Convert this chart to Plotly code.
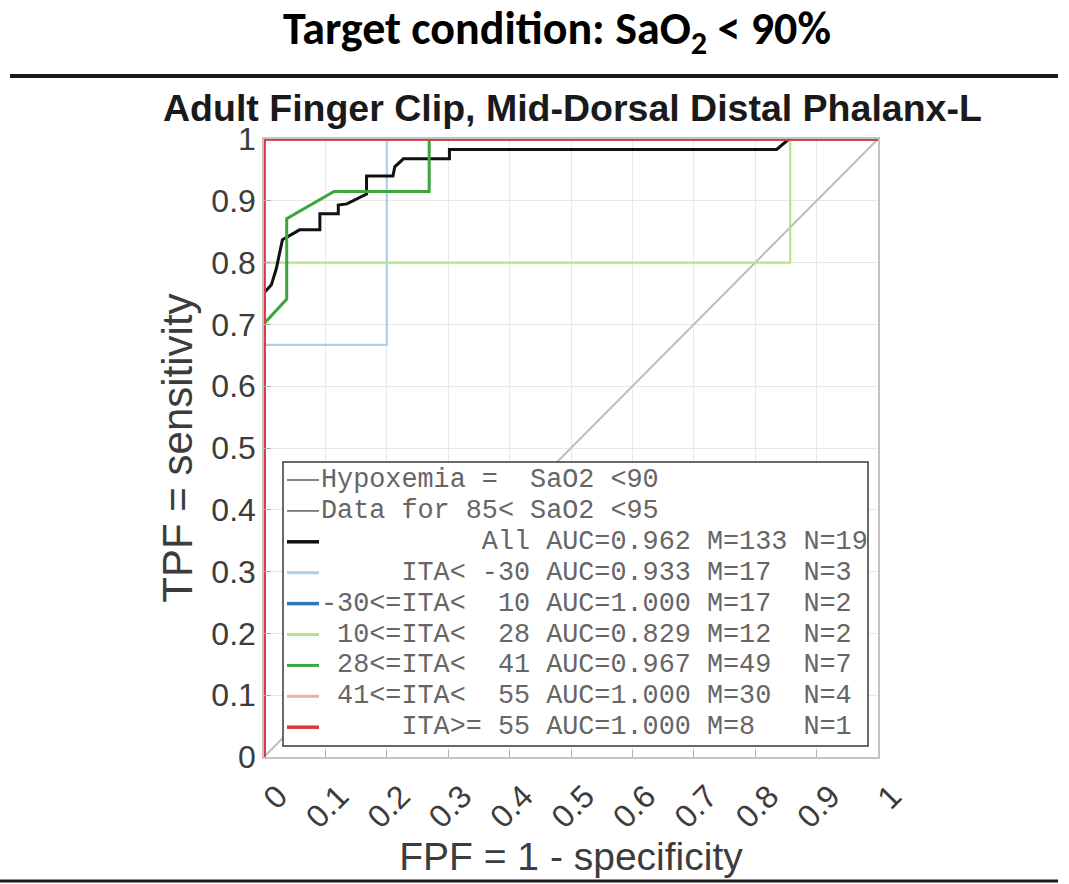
import plotly.graph_objects as go

# ROC curves (FPF, TPF) per ITA group
fpf_all = [0, 0, 0.012, 0.020, 0.030, 0.045, 0.058, 0.091, 0.091, 0.121, 0.121, 0.135,
           0.150, 0.167, 0.167, 0.210, 0.213, 0.227, 0.302, 0.302, 0.835, 0.855, 1.0]
tpf_all = [0, 0.751, 0.764, 0.790, 0.837, 0.845, 0.853, 0.853, 0.879, 0.879, 0.893, 0.895,
           0.902, 0.911, 0.940, 0.940, 0.955, 0.968, 0.968, 0.983, 0.983, 1.0, 1.0]

fpf_ita_lt_m30 = [0, 0, 0.2, 0.2, 1]
tpf_ita_lt_m30 = [0, 0.667, 0.667, 1, 1]

fpf_ita_m30_10 = [0, 0, 1]
tpf_ita_m30_10 = [0, 1, 1]

fpf_ita_10_28 = [0, 0, 0.857, 0.857, 1]
tpf_ita_10_28 = [0, 0.8, 0.8, 1, 1]

fpf_ita_28_41 = [0, 0, 0.037, 0.037, 0.114, 0.269, 0.269, 1]
tpf_ita_28_41 = [0, 0.701, 0.741, 0.871, 0.915, 0.915, 1, 1]

fpf_ita_41_55 = [0, 0, 1]
tpf_ita_41_55 = [0, 1, 1]

fpf_ita_ge_55 = [0, 0, 1]
tpf_ita_ge_55 = [0, 1, 1]

chance_x = [0, 1]
chance_y = [0, 1]

tick_vals = [0, 0.1, 0.2, 0.3, 0.4, 0.5, 0.6, 0.7, 0.8, 0.9, 1]
tick_text = ["0", "0.1", "0.2", "0.3", "0.4", "0.5", "0.6", "0.7", "0.8", "0.9", "1"]

legend_labels = [
    "Hypoxemia =  SaO2 <90",
    "Data for 85< SaO2 <95",
    "          All AUC=0.962 M=133 N=19",
    "     ITA< -30 AUC=0.933 M=17  N=3",
    "-30<=ITA<  10 AUC=1.000 M=17  N=2",
    " 10<=ITA<  28 AUC=0.829 M=12  N=2",
    " 28<=ITA<  41 AUC=0.967 M=49  N=7",
    " 41<=ITA<  55 AUC=1.000 M=30  N=4",
    "     ITA>= 55 AUC=1.000 M=8   N=1",
]

C_ALL = "#111111"
C_LBLUE = "#a9d1ea"
C_DBLUE = "#2a78b8"
C_LGREEN = "#b4e38e"
C_GREEN = "#3ca53c"
C_PINK = "#f4aaaa"
C_RED = "#e0353a"
C_GRAY = "#777777"

legend_colors = [C_GRAY, C_GRAY, C_ALL, C_LBLUE, C_DBLUE, C_LGREEN, C_GREEN, C_PINK, C_RED]
legend_widths = [1.8, 1.8, 3.5, 3, 3.5, 3, 3, 3, 3.5]

curves = [
    (fpf_ita_lt_m30, tpf_ita_lt_m30, C_LBLUE, 2.2, legend_labels[3]),
    (fpf_ita_m30_10, tpf_ita_m30_10, C_DBLUE, 3, legend_labels[4]),
    (fpf_ita_10_28, tpf_ita_10_28, C_LGREEN, 2.2, legend_labels[5]),
    (fpf_all, tpf_all, C_ALL, 3, legend_labels[2]),
    (fpf_ita_28_41, tpf_ita_28_41, C_GREEN, 3, legend_labels[6]),
    (fpf_ita_41_55, tpf_ita_41_55, C_PINK, 3, legend_labels[7]),
    (fpf_ita_ge_55, tpf_ita_ge_55, C_RED, 3.5, legend_labels[8]),
]

W, H = 1069, 884
PL, PR, PT, PB = 264, 878, 139, 757  # plot area edges in pixels


def px(xp):
    return (xp - PL) / (PR - PL)


def py(yp):
    return (PB - yp) / (PB - PT)


fig = go.Figure()

fig.add_trace(go.Scatter(x=chance_x, y=chance_y, mode="lines",
                         line=dict(color="#bdbdbd", width=2),
                         showlegend=False, hoverinfo="skip"))

for xs, ys, col, w, name in curves:
    fig.add_trace(go.Scatter(x=xs, y=ys, mode="lines", name=name.strip(),
                             line=dict(color=col, width=w),
                             cliponaxis=False, showlegend=False))

shapes = []
annotations = []

# Horizontal rules framing the slide
shapes.append(dict(type="line", xref="paper", yref="paper",
                   x0=px(10), x1=px(1058), y0=py(76), y1=py(76),
                   line=dict(color="#1a1a1a", width=4), layer="above"))
shapes.append(dict(type="line", xref="paper", yref="paper",
                   x0=px(0), x1=px(1058), y0=py(881), y1=py(881),
                   line=dict(color="#1a1a1a", width=3), layer="above"))

# Legend box
LB_L, LB_R, LB_T, LB_B = 283, 868, 462, 746
shapes.append(dict(type="rect", xref="paper", yref="paper",
                   x0=px(LB_L), x1=px(LB_R), y0=py(LB_B), y1=py(LB_T),
                   line=dict(color="#3a3a3a", width=1.5), fillcolor="white",
                   layer="above"))

row0, row_step = 480, 30.9
for i, (lab, col, w) in enumerate(zip(legend_labels, legend_colors, legend_widths)):
    yy = row0 + i * row_step
    shapes.append(dict(type="line", xref="paper", yref="paper",
                       x0=px(287), x1=px(319), y0=py(yy), y1=py(yy),
                       line=dict(color=col, width=w), layer="above"))
    annotations.append(dict(xref="paper", yref="paper", x=px(319), y=py(yy),
                            xanchor="left", yanchor="middle", showarrow=False,
                            text=lab.replace(" ", "\u00a0"),
                            font=dict(family="Liberation Mono, monospace",
                                      size=26.8, color="#666666")))

# Slide heading and chart title
annotations.append(dict(xref="paper", yref="paper", x=px(557), y=py(31),
                        xanchor="center", yanchor="middle", showarrow=False,
                        text="<b>Target condition: SaO<sub>2</sub> &lt; 90%</b>",
                        font=dict(family="Carlito, Liberation Sans Narrow, Lato, sans-serif",
                                  size=46, color="black")))
annotations.append(dict(xref="paper", yref="paper", x=px(572), y=py(108),
                        xanchor="center", yanchor="middle", showarrow=False,
                        text="<b>Adult Finger Clip, Mid-Dorsal Distal Phalanx-L</b>",
                        font=dict(family="Liberation Sans, Arial, sans-serif",
                                  size=37.5, color="#1a1a1a")))

axis_common = dict(
    range=[0, 1], tickvals=tick_vals, ticktext=tick_text,
    showgrid=True, gridcolor="#e8e8e8", gridwidth=1,
    zeroline=False, showline=True, linecolor="#c4c4c4", linewidth=1.5,
    mirror=True, ticks="inside", ticklen=7, tickcolor="#b0b0b0",
    tickfont=dict(family="Liberation Sans, Arial, sans-serif", size=32, color="#3c3c3c"),
    automargin=False,
)

fig.update_layout(
    width=W, height=H,
    margin=dict(l=PL, r=W - PR, t=PT, b=H - PB),
    paper_bgcolor="white", plot_bgcolor="white",
    showlegend=False,
    xaxis=dict(**axis_common, tickangle=-45, ticklabelshift=14, ticklabelstandoff=6,
               title=dict(text="FPF = 1 - specificity", standoff=8,
                          font=dict(family="Liberation Sans, Arial, sans-serif",
                                    size=39, color="#3c3c3c"))),
    yaxis=dict(**axis_common,
               title=dict(text="TPF = sensitivity", standoff=6,
                          font=dict(family="Liberation Sans, Arial, sans-serif",
                                    size=42, color="#3c3c3c"))),
    shapes=shapes,
    annotations=annotations,
)

fig.write_html("out.html")
